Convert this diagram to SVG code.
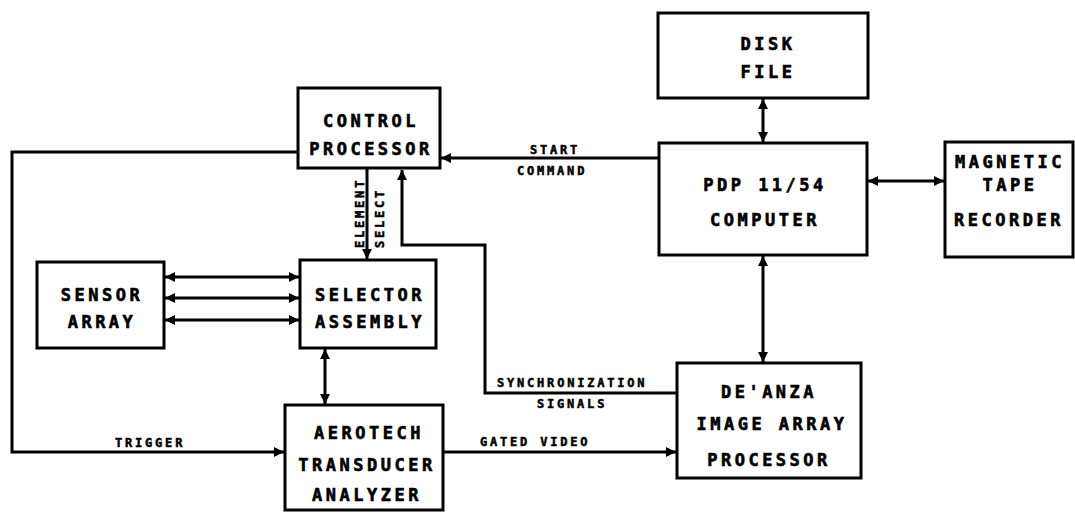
<svg xmlns="http://www.w3.org/2000/svg" width="1075" height="517" viewBox="0 0 1075 517">
<style>
.box{fill:#fff;stroke:#000;stroke-width:3}
.t{font-family:"DejaVu Sans Mono","Liberation Mono",monospace;font-weight:bold;font-size:17px;letter-spacing:3.5px;text-anchor:middle;fill:#000;stroke:#000;stroke-width:0.6}
.s{font-family:"DejaVu Sans Mono","Liberation Mono",monospace;font-weight:bold;font-size:12px;letter-spacing:2.8px;fill:#000;stroke:#000;stroke-width:0.5}
.c{fill:none;stroke:#000;stroke-width:3}
.a{marker-end:url(#ah)}
.d{marker-start:url(#ah);marker-end:url(#ah)}
</style>
<defs>
<marker id="ah" viewBox="0 0 10 10" refX="10" refY="5" markerWidth="10" markerHeight="10" markerUnits="userSpaceOnUse" orient="auto-start-reverse">
<path d="M0,0 L10,5 L0,10 z" fill="#000"/>
</marker>
</defs>
<rect width="1075" height="517" fill="#fff"/>
<g id="connectors">
<path class="c a" d="M298,152 H12 V452 H284"/>
<path class="c a" d="M659,158 H441"/>
<path class="c a" d="M367,169 V259"/>
<path class="c a" d="M677,393 H485 V245 H402 V170"/>
<path class="c a" d="M443,452 H676"/>
<path class="c d" d="M763,99 V142"/>
<path class="c d" d="M868,181 H944"/>
<path class="c d" d="M763,256 V362"/>
<path class="c d" d="M165,277 H299"/>
<path class="c d" d="M165,298 H299"/>
<path class="c d" d="M165,320 H299"/>
<path class="c d" d="M325,349 V404"/>
<text class="s" x="530" y="154">START</text>
<text class="s" x="517" y="175">COMMAND</text>
<text class="s" x="497" y="387">SYNCHRONIZATION</text>
<text class="s" x="537" y="408">SIGNALS</text>
<text class="s" x="480" y="446">GATED VIDEO</text>
<text class="s" x="115" y="447">TRIGGER</text>
<text class="s" transform="translate(364,248) rotate(-90)">ELEMENT</text>
<text class="s" transform="translate(384,248) rotate(-90)">SELECT</text>
</g>
<g id="control-processor">
<rect class="box" x="298" y="88" width="142" height="80"/>
<text class="t" x="371" y="127">CONTROL</text>
<text class="t" x="371" y="155">PROCESSOR</text>
</g>
<g id="disk-file">
<rect class="box" x="658" y="13" width="210" height="85"/>
<text class="t" x="768" y="50">DISK</text>
<text class="t" x="768" y="78">FILE</text>
</g>
<g id="pdp-computer">
<rect class="box" x="659" y="143" width="208" height="112"/>
<text class="t" x="765" y="191">PDP 11/54</text>
<text class="t" x="765" y="226">COMPUTER</text>
</g>
<g id="magnetic-tape">
<rect class="box" x="945" y="142" width="128" height="115"/>
<text class="t" x="1010" y="168">MAGNETIC</text>
<text class="t" x="1010" y="191">TAPE</text>
<text class="t" x="1009" y="226">RECORDER</text>
</g>
<g id="sensor-array">
<rect class="box" x="37" y="262" width="127" height="86"/>
<text class="t" x="102" y="301">SENSOR</text>
<text class="t" x="102" y="328">ARRAY</text>
</g>
<g id="selector-assembly">
<rect class="box" x="300" y="260" width="136" height="88"/>
<text class="t" x="370" y="301">SELECTOR</text>
<text class="t" x="370" y="328">ASSEMBLY</text>
</g>
<g id="aerotech">
<rect class="box" x="285" y="405" width="158" height="105"/>
<text class="t" x="369" y="439">AEROTECH</text>
<text class="t" x="367" y="471">TRANSDUCER</text>
<text class="t" x="367" y="501">ANALYZER</text>
</g>
<g id="deanza">
<rect class="box" x="677" y="363" width="184" height="115"/>
<text class="t" x="769" y="398">DE'ANZA</text>
<text class="t" x="772" y="430">IMAGE ARRAY</text>
<text class="t" x="769" y="466">PROCESSOR</text>
</g>
</svg>
